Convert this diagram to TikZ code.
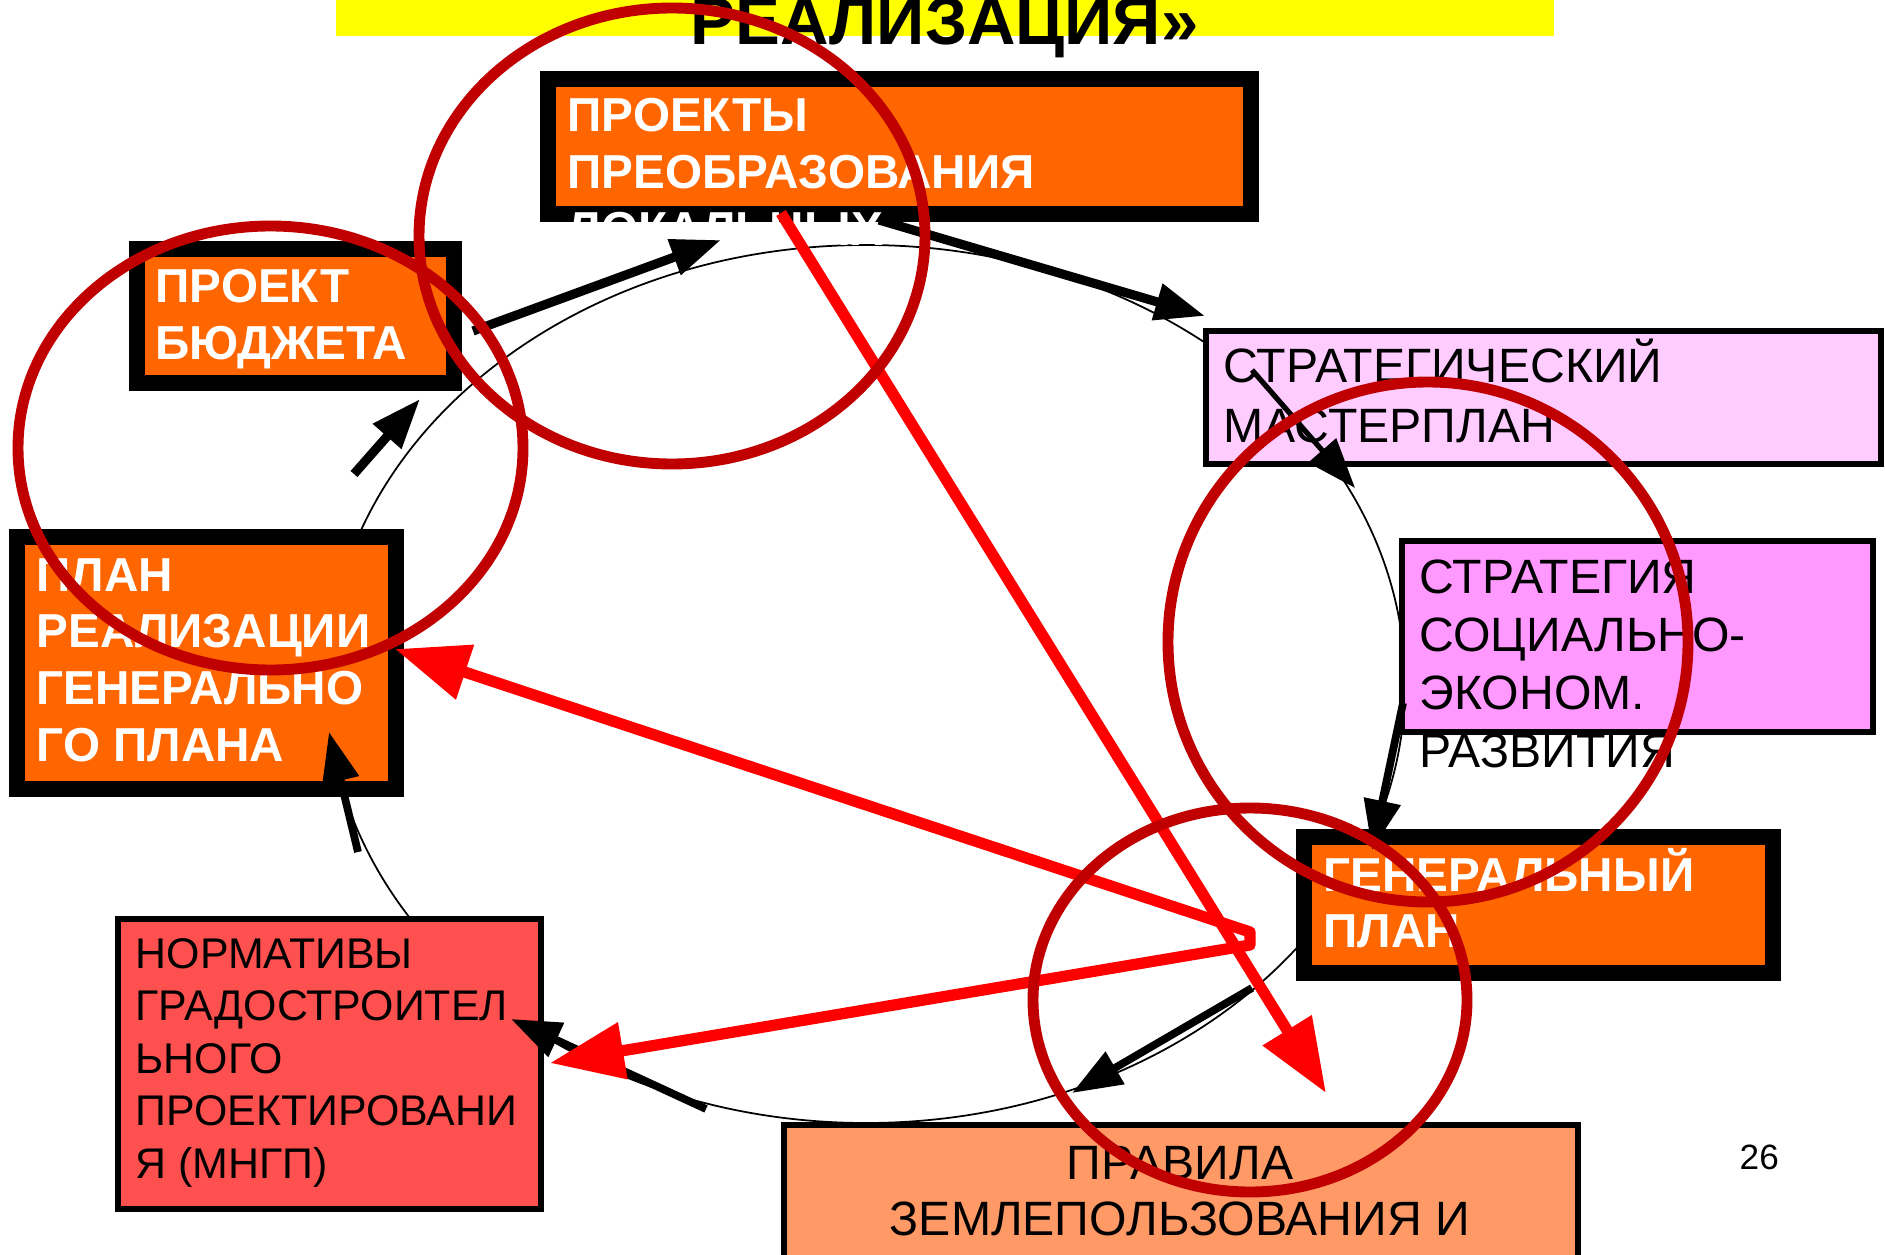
\documentclass[tikz,border=0pt]{standalone}
\usepackage{fontspec}
\setmainfont{Liberation Sans}
\usetikzlibrary{arrows.meta}
\definecolor{orng}{HTML}{FF6600}
\definecolor{ltpink}{HTML}{FFCCFF}
\definecolor{pink2}{HTML}{FF99FF}
\definecolor{coral}{HTML}{FF5050}
\definecolor{salmon}{HTML}{FF9966}
\definecolor{dred}{HTML}{C00000}
\definecolor{brred}{HTML}{FF0000}
\definecolor{ylw}{HTML}{FFFF00}
\newcommand\lft[1]{\vtop{\halign{##\hfil\cr#1\crcr}}}
\newcommand\ctr[1]{\vtop{\halign{\hfil##\hfil\cr#1\crcr}}}
\begin{document}
\begin{tikzpicture}[x=0.01cm,y=-0.01cm,
  obox/.style={draw=black,line width=4.55pt,fill=orng,inner sep=0pt},
  pbox/.style={draw=black,line width=1.7pt,inner sep=0pt},
  wtxt/.style={anchor=base west,inner sep=0pt,text=white,font=\bfseries\fontsize{13.55}{16.2}\selectfont},
  btxt/.style={anchor=base west,inner sep=0pt,text=black,font=\fontsize{13.7}{16.5}\selectfont},
  blkarr/.style={draw=black,line width=2.6pt,-{Triangle[length=14.2pt,width=10.2pt]}},
  redarr/.style={draw=brred,line width=3.2pt,line join=round,-{Triangle[length=21pt,width=15.6pt]}},
  ring/.style={draw=dred,line width=3.1pt}
]
\useasboundingbox (0,0) rectangle (1885,1255);
\clip (0,0) rectangle (1885,1255);
\fill[white] (0,0) rectangle (1885,1255);

% title
\node[fill=ylw,inner sep=0pt,minimum width=12.18cm,minimum height=0.46cm] (bar) at (945,13) {};
\node[anchor=base west,inner sep=0pt,font=\bfseries\fontsize{19.1}{22}\selectfont] (title) at (690,45) {РЕАЛИЗАЦИЯ»};

% thin cycle
\draw[line width=0.5pt] (866,684) ellipse (539 and 439);

% boxes
\node[obox,minimum width=7.03cm,minimum height=1.35cm] (proj) at (899.5,146.5) {};
\node[wtxt] (projt) at (567,132) {\lft{ПРОЕКТЫ\cr ПРЕОБРАЗОВАНИЯ\cr ЛОКАЛЬНЫХ}};

\node[obox,minimum width=3.17cm,minimum height=1.34cm] (budg) at (295.5,316) {};
\node[wtxt] (budgt) at (155,303) {\lft{ПРОЕКТ\cr БЮДЖЕТА}};

\node[obox,minimum width=3.785cm,minimum height=2.52cm] (plan) at (206.75,663) {};
\node[wtxt] (plant) at (36,591) {\lft{ПЛАН\cr РЕАЛИЗАЦИИ\cr ГЕНЕРАЛЬНО\cr ГО ПЛАНА}};

\node[obox,minimum width=4.685cm,minimum height=1.36cm] (gen) at (1538.75,905) {};
\node[wtxt] (gent) at (1323,891) {\lft{ГЕНЕРАЛЬНЫЙ\cr ПЛАН}};

\node[pbox,fill=ltpink,minimum width=6.75cm,minimum height=1.33cm] (master) at (1543.5,397.5) {};
\node[btxt,font=\fontsize{13.7}{16.8}\selectfont] (mastert) at (1223,383) {\lft{СТРАТЕГИЧЕСКИЙ\cr МАСТЕРПЛАН}};

\node[pbox,fill=pink2,minimum width=4.71cm,minimum height=1.91cm] (strat) at (1637.5,636.5) {};
\node[btxt] (stratt) at (1419,593) {\lft{СТРАТЕГИЯ\cr СОЦИАЛЬНО-\cr ЭКОНОМ.\cr РАЗВИТИЯ}};

\node[pbox,fill=coral,minimum width=4.23cm,minimum height=2.9cm] (norm) at (329.5,1064) {};
\node[btxt,font=\fontsize{12.2}{14.95}\selectfont] (normt) at (135,968) {\lft{НОРМАТИВЫ\cr ГРАДОСТРОИТЕЛ\cr ЬНОГО\cr ПРОЕКТИРОВАНИ\cr Я (МНГП)}};

\node[pbox,fill=salmon,minimum width=7.94cm,minimum height=1.95cm] (rules) at (1181,1222.5) {};
\node[anchor=base,inner sep=0pt,font=\fontsize{13.7}{16.2}\selectfont] (rulest) at (1180,1179) {\ctr{ПРАВИЛА\cr ЗЕМЛЕПОЛЬЗОВАНИЯ И}};

\node[anchor=base west,inner sep=0pt,font=\fontsize{10}{12}\selectfont] (pg) at (1739,1169) {26};

% connector end points
\coordinate (a1s) at (473,331);  \coordinate (a1e) at (721,240);
\coordinate (a2s) at (879,220);  \coordinate (a2e) at (1205,316);
\coordinate (a3s) at (1252,370); \coordinate (a3e) at (1355,488);
\coordinate (a4s) at (1403,703); \coordinate (a4e) at (1372,850);
\coordinate (a5s) at (1252,988); \coordinate (a5e) at (1072,1093);
\coordinate (a6s) at (706,1109); \coordinate (a6e) at (511,1019);
\coordinate (a7s) at (358,852);  \coordinate (a7e) at (329,732);
\coordinate (a8s) at (354,474);  \coordinate (a8e) at (420,399);
\coordinate (r1s) at (781,213);  \coordinate (r1e) at (1326,1093);
\coordinate (r2s) at (1250,932); \coordinate (r2e) at (395,649);
\coordinate (r3s) at (1250,945); \coordinate (r3e) at (550,1063);

% black arrows
\draw[blkarr] (a1s) -- (a1e);
\draw[blkarr] (a2s) -- (a2e);
\draw[blkarr,line width=1.5pt] (a3s) -- (a3e);
\draw[blkarr,line width=2.2pt] (a4s) -- (a4e);
\draw[blkarr,line width=2.2pt] (a5s) -- (a5e);
\draw[blkarr,line width=2.2pt] (a6s) -- (a6e);
\draw[blkarr,line width=2.2pt] (a7s) -- (a7e);
\draw[blkarr] (a8s) -- (a8e);

% red arrows
\draw[redarr] (r1s) -- (r1e);
\draw[redarr,{Triangle[length=21pt,width=15.6pt]}-{Triangle[length=21pt,width=15.6pt]}] (r2e) -- (r2s) -- (r3s) -- (r3e);

% highlight rings
\draw[ring] (672,236) ellipse (253 and 228);
\draw[ring] (270.5,448) ellipse (252.5 and 222);
\draw[ring] (1428,642) ellipse (260 and 260);
\draw[ring] (1250,1000) ellipse (217 and 192);
\end{tikzpicture}
\end{document}
